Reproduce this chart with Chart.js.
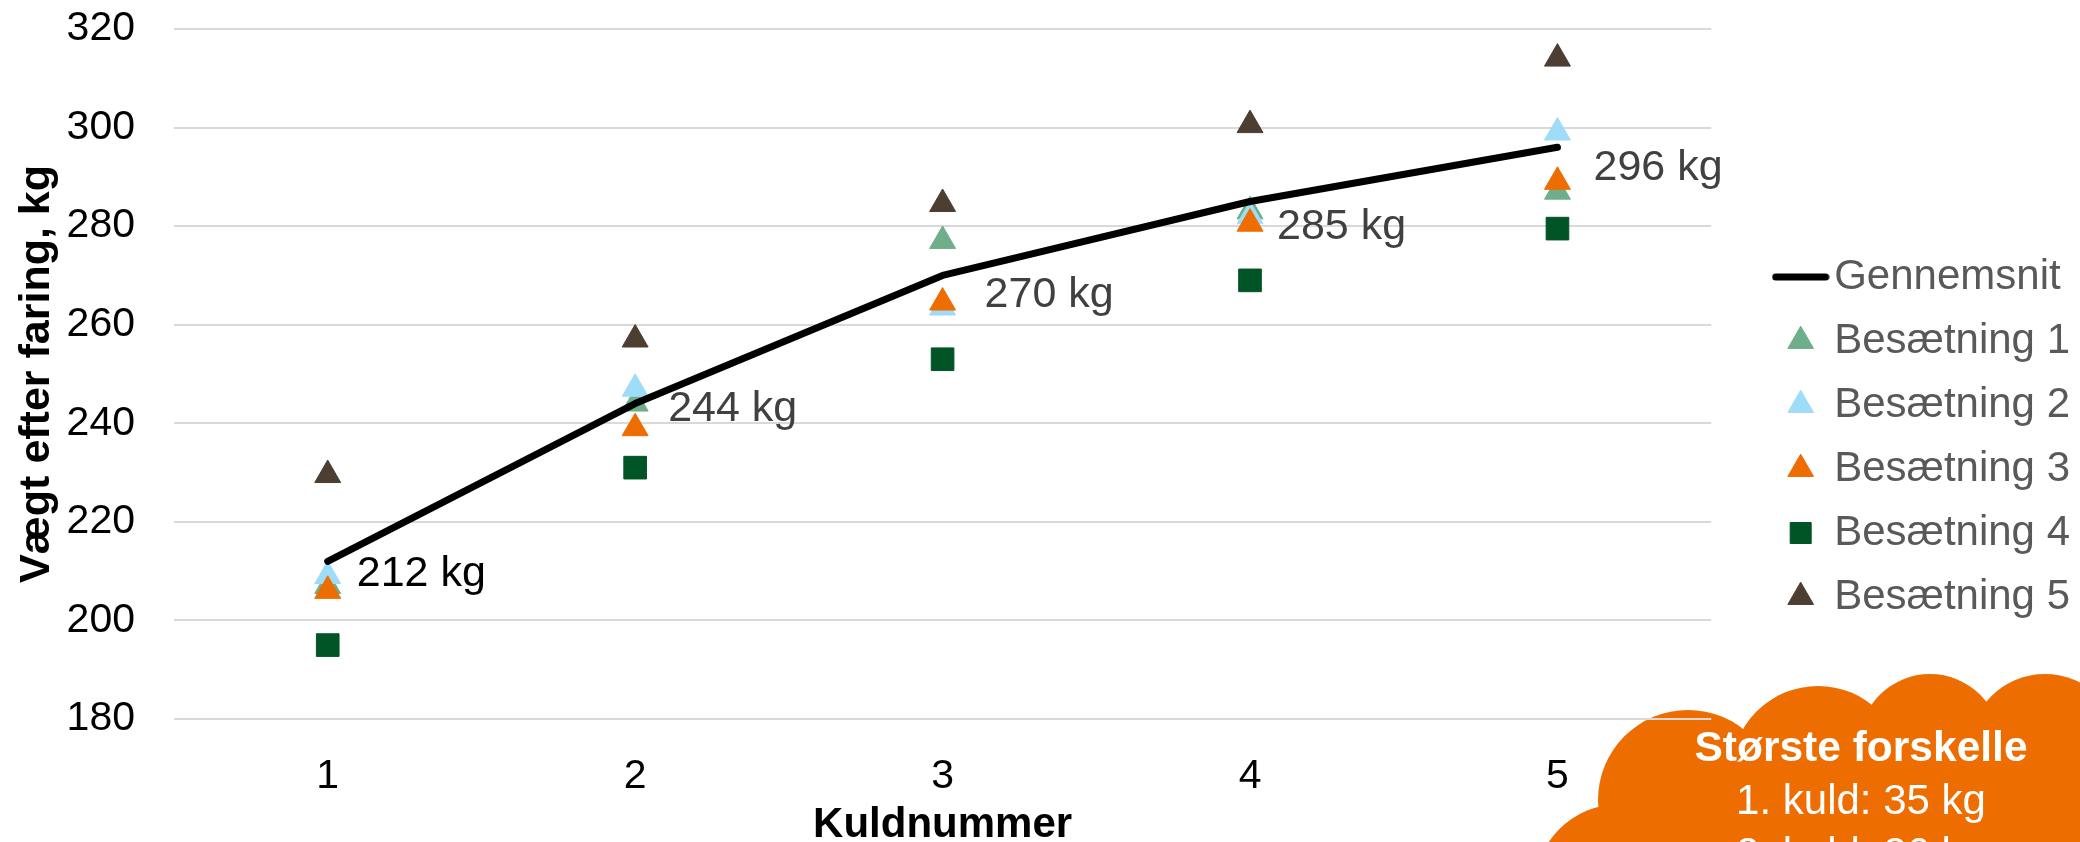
<!DOCTYPE html>
<html lang="da">
<head>
<meta charset="UTF-8">
<title>Vægt efter faring</title>
<style>
  html, body { margin: 0; padding: 0; background: #fff; overflow: hidden; }
  .wrap { width: 2080px; height: 842px; position: relative; }
</style>
</head>
<body>
<div class="wrap"><canvas id="graf"></canvas></div>
<script src="https://cdn.jsdelivr.net/npm/chart.js"></script>
<script>
// data
const kuld = ['1', '2', '3', '4', '5'];
const gennemsnit = [212, 244, 270, 285, 296];
const besaetning1 = [207, 244, 277, 283, 287];
const besaetning2 = [209, 247, 263.5, 282, 299];
const besaetning3 = [206, 239, 264.5, 280.5, 289];
const besaetning4 = [195, 231, 253, 269, 279.5];
const besaetning5 = [229.5, 257, 284.5, 300.5, 314];
const yMin = 180, yMax = 320, yStep = 20;
const skyTekst = ['Største forskelle', '1. kuld: 35 kg', '2. kuld: 26 kg'];

// stil
const FONT = "'Liberation Sans', Arial, sans-serif";
const ORANGE = '#EE6D00';
const labelDx = [29, 33, 42, 27, 36];
const labelDy = [13, 6, 20, 26, 21];
const labelColor = ['#000000', '#404040', '#404040', '#404040', '#404040'];

// legend-symbol for linjen
const lineIcon = document.createElement('canvas');
lineIcon.width = 58; lineIcon.height = 8;
(function () {
  const c = lineIcon.getContext('2d');
  c.strokeStyle = '#000'; c.lineWidth = 7; c.lineCap = 'round';
  c.beginPath(); c.moveTo(4, 4); c.lineTo(54, 4); c.stroke();
})();

function punkter(label, data, color, style, r, order) {
  return {
    label, data, order,
    showLine: false,
    backgroundColor: color,
    borderColor: color,
    borderWidth: 1,
    pointStyle: style,
    pointRadius: r,
    pointHoverRadius: r
  };
}

// etiketter "xxx kg" ved gennemsnitslinjen
const kgLabels = {
  id: 'kgLabels',
  afterDatasetsDraw(chart) {
    const ctx = chart.ctx;
    const meta = chart.getDatasetMeta(0);
    ctx.save();
    ctx.font = '43px ' + FONT;
    ctx.textAlign = 'left';
    ctx.textBaseline = 'middle';
    meta.data.forEach((p, i) => {
      ctx.fillStyle = labelColor[i];
      ctx.fillText(gennemsnit[i] + ' kg', p.x + labelDx[i], p.y + labelDy[i]);
    });
    ctx.restore();
  }
};

// orange sky nederst til højre
const sky = {
  id: 'sky',
  beforeDraw(chart) {
    const ctx = chart.ctx;
    const W = chart.width, H = chart.height;
    const bumps = [
      [W - 460, H + 48, 86],
      [W - 392, H - 42, 90],
      [W - 262, H - 69, 87],
      [W - 150, H - 97, 71],
      [W - 35, H - 92, 76]
    ];
    ctx.save();
    ctx.fillStyle = ORANGE;
    bumps.forEach(b => {
      ctx.beginPath();
      ctx.arc(b[0], b[1], b[2], 0, Math.PI * 2);
      ctx.fill();
    });
    ctx.fillRect(W - 430, H - 70, 430, 70);
    ctx.fillStyle = '#fff';
    ctx.textAlign = 'center';
    ctx.textBaseline = 'middle';
    skyTekst.forEach((t, i) => {
      ctx.font = (i === 0 ? 'bold 42.5px ' : '42px ') + FONT;
      ctx.fillText(t, W - 219, H - 92.5 + i * 53);
    });
    ctx.restore();
  }
};

new Chart(document.getElementById('graf'), {
  type: 'line',
  data: {
    labels: kuld,
    datasets: [
      {
        label: 'Gennemsnit',
        data: gennemsnit,
        order: 0,
        borderColor: '#000',
        backgroundColor: '#000',
        borderWidth: 7,
        borderCapStyle: 'round',
        borderJoinStyle: 'round',
        pointStyle: lineIcon,
        pointRadius: 0,
        pointHoverRadius: 0,
        tension: 0
      },
      punkter('Besætning 1', besaetning1, '#6FAE8B', 'triangle', 15, 5),
      punkter('Besætning 2', besaetning2, '#9FDCF8', 'triangle', 15, 4),
      punkter('Besætning 3', besaetning3, ORANGE, 'triangle', 15, 3),
      punkter('Besætning 4', besaetning4, '#005426', 'rect', 16, 2),
      punkter('Besætning 5', besaetning5, '#4D3E32', 'triangle', 15, 1)
    ]
  },
  options: {
    responsive: true,
    maintainAspectRatio: false,
    animation: false,
    events: [],
    layout: { padding: { top: 16, right: 0, left: 0, bottom: 0 } },
    scales: {
      x: {
        offset: true,
        grid: { display: false },
        border: { display: false },
        ticks: { color: '#000', padding: 25, font: { family: FONT, size: 41 } },
        title: {
          display: true,
          text: 'Kuldnummer',
          color: '#000',
          padding: 0,
          font: { family: FONT, size: 42, weight: 'bold', lineHeight: 0.8 }
        },
        afterFit: s => { s.height = 123; }
      },
      y: {
        min: yMin,
        max: yMax,
        grid: { color: '#D9D9D9', lineWidth: 2, drawTicks: true, tickLength: 39, tickColor: 'rgba(0,0,0,0)' },
        border: { display: false },
        ticks: {
          stepSize: yStep,
          color: '#000',
          padding: 0,
          font: { family: FONT, size: 41, lineHeight: 1.415 }
        },
        title: {
          display: true,
          text: 'Vægt efter faring, kg',
          color: '#000',
          padding: { top: 11, bottom: 0 },
          font: { family: FONT, size: 43, weight: 'bold' }
        },
        afterFit: s => { s.width = 174; }
      },
      luft: {
        type: 'linear',
        position: 'right',
        display: true,
        grid: { display: false },
        border: { display: false },
        ticks: { display: false },
        afterFit: s => { s.width = 55; }
      }
    },
    plugins: {
      tooltip: { enabled: false },
      legend: {
        position: 'right',
        align: 'center',
        title: { display: true, text: '', padding: { top: 6, bottom: 0 }, font: { size: 10, lineHeight: 1 } },
        labels: {
          usePointStyle: true,
          boxWidth: 25,
          boxHeight: 21,
          padding: 22,
          color: '#595959',
          font: { family: FONT, size: 42 },
          sort: (a, b) => a.datasetIndex - b.datasetIndex
        }
      }
    }
  },
  plugins: [sky, kgLabels]
});
</script>
</body>
</html>
